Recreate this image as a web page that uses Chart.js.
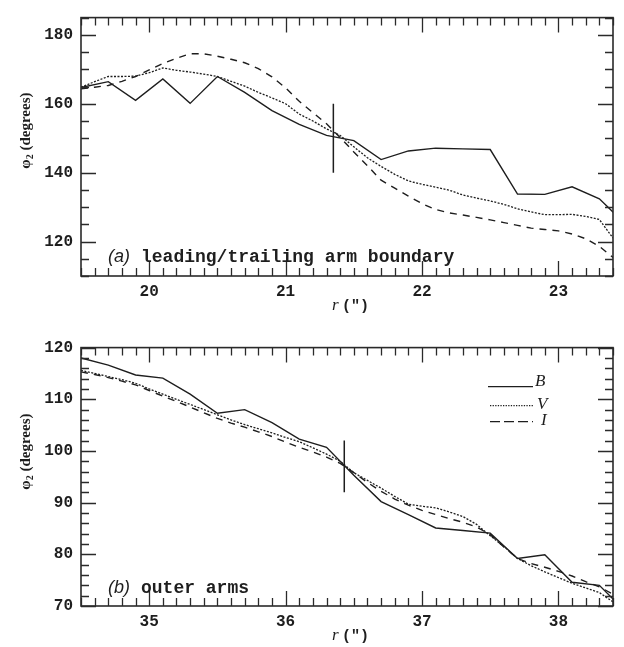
<!DOCTYPE html>
<html lang="en">
<head>
  <meta charset="UTF-8">
  <title>Pitch angle against radius</title>
  <script src="https://cdn.jsdelivr.net/npm/chart.js"></script>
  <style>
    body {
      margin: 0;
      background: #fff;
    }
    .panel {
      position: absolute;
      left: 0;
    }
    #panelA { top: 0; }
    #panelB { top: 330px; }
  </style>
</head>
<body>
  <div class="panel" id="panelA"><canvas id="chartA" width="624" height="320"></canvas></div>
  <div class="panel" id="panelB"><canvas id="chartB" width="624" height="317"></canvas></div>

  <script>
    // ---- panel (a): leading/trailing arm boundary ----
    const rA_B = [19.5, 19.7, 19.9, 20.1, 20.3, 20.5, 20.7, 20.9, 21.1, 21.3, 21.5,
                  21.7, 21.9, 22.1, 22.3, 22.5, 22.7, 22.9, 23.1, 23.3, 23.5];
    const phiA_B = [164.7, 166.4, 161.0, 167.2, 160.1, 167.9, 163.3, 158.0, 154.0, 150.8, 149.3,
                    143.8, 146.3, 147.1, 146.9, 146.7, 133.8, 133.7, 135.9, 132.4, 124.8];
    const rA_VI = [19.5, 19.6, 19.7, 19.8, 19.9, 20.0, 20.1, 20.2, 20.3, 20.4,
                   20.5, 20.6, 20.7, 20.8, 20.9, 21.0, 21.1, 21.2, 21.3, 21.4,
                   21.5, 21.6, 21.7, 21.8, 21.9, 22.0, 22.1, 22.2, 22.3, 22.4,
                   22.5, 22.6, 22.7, 22.8, 22.9, 23.0, 23.1, 23.2, 23.3, 23.4];
    const phiA_V = [164.8, 166.4, 167.9, 167.9, 168.0, 169.0, 170.4, 169.7, 169.2, 168.6,
                    167.9, 166.5, 165.1, 163.3, 161.7, 160.0, 157.0, 155.0, 152.7, 150.8,
                    147.5, 144.3, 141.8, 139.5, 137.6, 136.6, 135.8, 134.9, 133.5, 132.6,
                    131.8, 130.8, 129.5, 128.6, 127.8, 127.8, 127.9, 127.3, 126.4, 121.0];
    const phiA_I = [164.3, 164.8, 165.3, 166.5, 167.9, 169.8, 171.7, 173.2, 174.5, 174.5,
                    173.8, 172.9, 171.9, 170.2, 167.8, 164.6, 160.7, 157.4, 154.2, 150.2,
                    146.0, 142.0, 137.8, 135.5, 133.2, 131.0, 129.3, 128.3, 127.7, 127.0,
                    126.3, 125.5, 124.7, 123.9, 123.5, 123.1, 122.2, 120.8, 118.6, 115.4];
    const markA_r = [21.35, 21.35];
    const markA_phi = [140, 160];
    const ticksA_r = [20, 21, 22, 23];
    const ticksA_phi = [120, 140, 160, 180];

    // ---- panel (b): outer arms ----
    const rB_B = [34.5, 34.7, 34.9, 35.1, 35.3, 35.5, 35.7, 35.9, 36.1, 36.3, 36.5,
                  36.7, 36.9, 37.1, 37.3, 37.5, 37.7, 37.9, 38.1, 38.3, 38.5];
    const phiB_B = [118.0, 116.6, 114.7, 114.1, 111.0, 107.3, 108.0, 105.5, 102.3, 100.7, 95.3,
                    90.2, 87.7, 85.1, 84.6, 84.1, 79.2, 79.9, 74.6, 74.0, 68.7];
    const rB_VI = [34.5, 34.6, 34.7, 34.8, 34.9, 35.0, 35.1, 35.2, 35.3, 35.4,
                   35.5, 35.6, 35.7, 35.8, 35.9, 36.0, 36.1, 36.2, 36.3, 36.4,
                   36.5, 36.6, 36.7, 36.8, 36.9, 37.0, 37.1, 37.2, 37.3, 37.4,
                   37.5, 37.6, 37.7, 37.8, 37.9, 38.0, 38.1, 38.2, 38.3, 38.4];
    const phiB_V = [115.6, 115.0, 114.4, 113.8, 113.1, 112.0, 111.0, 110.0, 109.0, 108.0,
                    107.0, 106.0, 105.1, 104.3, 103.5, 102.6, 101.8, 100.6, 99.4, 98.0,
                    95.8, 94.3, 92.8, 91.2, 89.7, 89.3, 89.0, 88.2, 87.3, 85.8,
                    83.6, 81.5, 79.2, 77.8, 76.6, 75.5, 74.4, 73.5, 72.6, 70.8];
    const phiB_I = [115.3, 114.8, 114.2, 113.5, 112.8, 111.7, 110.6, 109.6, 108.5, 107.4,
                    106.3, 105.4, 104.6, 103.7, 102.8, 101.7, 100.7, 99.8, 98.8, 97.6,
                    95.8, 93.9, 92.2, 90.7, 89.5, 88.5, 87.7, 86.9, 86.2, 85.3,
                    83.8, 81.4, 79.2, 78.2, 77.5, 76.7, 75.8, 74.7, 73.7, 72.3];
    const markB_r = [36.43, 36.43];
    const markB_phi = [92, 102];
    const ticksB_r = [35, 36, 37, 38];
    const ticksB_phi = [70, 80, 90, 100, 110, 120];

    const bandNames = ['B', 'V', 'I'];
    const ink = '#1e1e1e';
    const dashV = [2, 1.5];
    const dashI = [7, 6];

    const pts = (xs, ys) => xs.map((x, i) => ({ x: x, y: ys[i] }));

    // box with inward ticks on all four sides
    const frame = {
      id: 'frame',
      afterDraw(chart, args, o) {
        const { ctx, chartArea: a, scales: { x, y } } = chart;
        ctx.save();
        ctx.strokeStyle = '#2a2a2a';
        ctx.lineWidth = 1.6;
        ctx.strokeRect(a.left, a.top, a.right - a.left, a.bottom - a.top);
        ctx.lineWidth = 1.3;
        ctx.beginPath();
        const marks = (scale, minor, major, draw) => {
          const k0 = Math.ceil(scale.min / minor - 1e-6);
          const k1 = Math.floor(scale.max / minor + 1e-6);
          for (let k = k0; k <= k1; k++) {
            const v = k * minor;
            const isMajor = Math.abs(v / major - Math.round(v / major)) < 1e-6;
            draw(Math.round(scale.getPixelForValue(v)) + 0.5, isMajor ? 15 : 8);
          }
        };
        marks(x, o.xMinor, o.xMajor, (p, len) => {
          ctx.moveTo(p, a.bottom); ctx.lineTo(p, a.bottom - len);
          ctx.moveTo(p, a.top); ctx.lineTo(p, a.top + len);
        });
        marks(y, o.yMinor, o.yMajor, (p, len) => {
          ctx.moveTo(a.left, p); ctx.lineTo(a.left + len, p);
          ctx.moveTo(a.right, p); ctx.lineTo(a.right - len, p);
        });
        ctx.stroke();
        ctx.restore();
      }
    };

    // panel tag, axis titles and legend
    const notes = {
      id: 'notes',
      afterDraw(chart, args, o) {
        const { ctx, chartArea: a } = chart;
        ctx.save();
        ctx.fillStyle = ink;
        ctx.textAlign = 'left';
        ctx.textBaseline = 'alphabetic';

        ctx.font = 'italic 18px "Liberation Sans"';
        ctx.fillText(o.tag, 108, a.top + o.tagY);
        ctx.font = 'bold 18px "Liberation Mono"';
        ctx.fillText(o.text, 141, a.top + o.tagY);

        ctx.font = 'italic 17px "Liberation Serif"';
        ctx.fillText('r', 332, a.bottom + 34);
        ctx.font = 'bold 15px "Liberation Mono"';
        ctx.fillText('(\u2033)', 342, a.bottom + 34);

        if (o.legend) {
          const rows = [
            { dash: [], y: a.top + 39, x0: 488, tx: 535 },
            { dash: [1.3, 1.3], y: a.top + 58, x0: 490, tx: 537 },
            { dash: [10, 4], y: a.top + 74, x0: 490, tx: 541 }
          ];
          ctx.strokeStyle = ink;
          ctx.lineWidth = 1.4;
          rows.forEach((r, i) => {
            ctx.setLineDash(r.dash);
            ctx.beginPath();
            ctx.moveTo(r.x0, r.y);
            ctx.lineTo(533, r.y);
            ctx.stroke();
            ctx.font = 'italic 17px "Liberation Serif"';
            ctx.fillText(bandNames[i], r.tx, r.y - (i === 0 ? 1 : -3) );
          });
          ctx.setLineDash([]);
        }

        // rotated y title: phi_2 (degrees)
        ctx.translate(30, a.top + o.yMid);
        ctx.rotate(-Math.PI / 2);
        const big = 'bold 15px "Liberation Serif"';
        const small = 'bold 10px "Liberation Serif"';
        ctx.font = big;
        const w1 = ctx.measureText('\u03c6').width;
        const w3 = ctx.measureText(' (degrees)').width;
        ctx.font = small;
        const w2 = ctx.measureText('2').width;
        let u = -(w1 + w2 + w3) / 2;
        ctx.font = big;
        ctx.fillText('\u03c6', u, 0);
        u += w1;
        ctx.font = small;
        ctx.fillText('2', u, 3);
        u += w2;
        ctx.font = big;
        ctx.fillText(' (degrees)', u, 0);
        ctx.restore();
      }
    };

    function buildChart(id, cfg) {
      const tickFont = { family: '"Liberation Mono", monospace', size: 16, weight: 'bold' };
      return new Chart(document.getElementById(id), {
        type: 'scatter',
        data: {
          datasets: [
            { data: pts(cfg.rB, cfg.phiB), borderColor: ink, borderWidth: 1.4 },
            { data: pts(cfg.rVI, cfg.phiV), borderColor: ink, borderWidth: 1.3, borderDash: dashV },
            { data: pts(cfg.rVI, cfg.phiI), borderColor: ink, borderWidth: 1.4, borderDash: dashI },
            { data: pts(cfg.markR, cfg.markPhi), borderColor: ink, borderWidth: 1.5 }
          ]
        },
        options: {
          responsive: false,
          animation: false,
          showLine: true,
          elements: { point: { radius: 0 }, line: { tension: 0 } },
          layout: { padding: { top: 10, right: 11, left: 0, bottom: 0 } },
          scales: {
            x: {
              type: 'linear',
              min: cfg.xMin,
              max: cfg.xMax,
              grid: { display: false, drawTicks: false },
              border: { display: false },
              ticks: { font: tickFont, color: ink, padding: 6, callback: v => String(v) },
              afterBuildTicks: s => { s.ticks = cfg.xTicks.map(v => ({ value: v })); },
              afterFit: s => { s.height = cfg.xAxisH; }
            },
            y: {
              min: cfg.yMin,
              max: cfg.yMax,
              grid: { display: false, drawTicks: false },
              border: { display: false },
              ticks: { font: tickFont, color: ink, padding: 8, callback: v => String(v) },
              afterBuildTicks: s => { s.ticks = cfg.yTicks.map(v => ({ value: v })); },
              afterFit: s => { s.width = 81; }
            }
          },
          plugins: {
            legend: { display: false },
            tooltip: { enabled: false },
            frame: cfg.frame,
            notes: cfg.notes
          }
        },
        plugins: [frame, notes]
      });
    }

    buildChart('chartA', {
      rB: rA_B, phiB: phiA_B, rVI: rA_VI, phiV: phiA_V, phiI: phiA_I,
      markR: markA_r, markPhi: markA_phi,
      xMin: 19.5, xMax: 23.4, yMin: 110, yMax: 185,
      xTicks: ticksA_r, yTicks: ticksA_phi, xAxisH: 44,
      frame: { xMinor: 0.1, xMajor: 1, yMinor: 5, yMajor: 20 },
      notes: { tag: '(a)', text: 'leading/trailing arm boundary', tagY: 244, yMid: 113, legend: false }
    });

    buildChart('chartB', {
      rB: rB_B, phiB: phiB_B, rVI: rB_VI, phiV: phiB_V, phiI: phiB_I,
      markR: markB_r, markPhi: markB_phi,
      xMin: 34.5, xMax: 38.4, yMin: 70, yMax: 120,
      xTicks: ticksB_r, yTicks: ticksB_phi, xAxisH: 41,
      frame: { xMinor: 0.1, xMajor: 1, yMinor: 2, yMajor: 10 },
      notes: { tag: '(b)', text: 'outer arms', tagY: 245, yMid: 104, legend: true }
    });
  </script>
</body>
</html>
